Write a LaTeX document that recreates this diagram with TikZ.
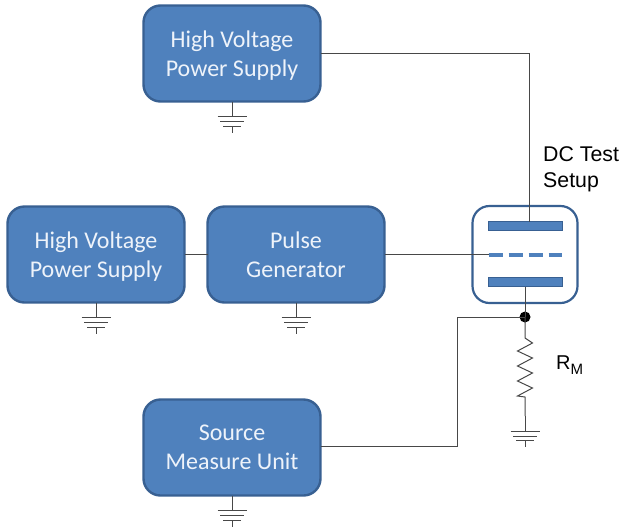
\documentclass[tikz,border=0pt]{standalone}
\usepackage{fontspec}
\setmainfont{Carlito}
\newfontfamily\labelfont{Liberation Sans}
\definecolor{cbox}{RGB}{79,129,189}
\definecolor{cedge}{RGB}{56,96,146}
\definecolor{cwire}{RGB}{72,72,72}
\definecolor{ctext}{RGB}{238,243,250}
\tikzset{bench/.style={x=1pt,y=-1pt,font=\fontsize{24}{29}\selectfont}}
\tikzset{unitbox/.style={draw=cedge,fill=cbox,line width=2.4pt,rounded corners=17pt,minimum width=177pt,minimum height=96pt,align=center,text=ctext,text depth=0pt,inner sep=0pt,outer sep=0pt},
         wire/.style={cwire,line width=1pt},
         plate/.style={draw=cedge,fill=cbox,line width=1pt,minimum width=74pt,minimum height=9pt,inner sep=0pt,outer sep=0pt},
         gnd/.pic={\draw[wire] (0,0) -- (0,15) (-14.5,15) -- (14.5,15) (-12,20) -- (12,20) (-9,24.5) -- (9,24.5) (0,24.5) -- (0,31);}}

\begin{document}
\begin{tikzpicture}[bench]
    \useasboundingbox (0,0) rectangle (621,531);
    \node[unitbox] (hvtop) at (232,53.5) {High Voltage\\Power Supply};
    \node[unitbox] (hvleft) at (96,254.5) {High Voltage\\Power Supply};
    \node[unitbox] (pulse) at (296,254.5) {Pulse\\Generator};
    \node[unitbox] (smu) at (232,447.5) {Source\\Measure Unit};
    % test setup
    \node[draw=cedge,line width=2.2pt,rounded corners=17pt,minimum width=105pt,minimum height=97pt,outer sep=0pt] (tube) at (525,254.5) {};
    \node[plate] (anode) at (525,226) {};
    \node[plate] (cathode) at (525,282) {};
    \coordinate (gridl) at (488.5,254.5);
    \coordinate (gridr) at (562,254.5);
    \draw[cbox,line width=4pt,dash pattern=on 14.5pt off 5.5pt] (gridl) -- (gridr);
    \node[circle,fill=black,inner sep=0pt,minimum size=11pt] (junc) at (525,317) {};
    \coordinate (rtop) at (525,338);
    \coordinate (rbot) at (525,397);
    \coordinate (gndr) at (525,416);
    \coordinate (bend) at (457,446);
    % connectors
    \draw[wire] (hvtop.east) -| ([xshift=4pt]anode.north);
    \draw[wire] (hvleft.east) -- (pulse.west);
    \draw[wire] (pulse.east) -- (gridl);
    \draw[wire] (cathode.south) -- (junc.center);
    \draw[wire] (smu.east |- bend) -- (bend) |- (junc.center);
    \draw[wire] (junc.center) -- (rtop) -- ++(7.5,5) -- ++(-15,8) -- ++(15,7) -- ++(-15,8) -- ++(15,7) -- ++(-15,8) -- ++(15,7) -- ++(-15,8) -- ++(7.5,1) -- (rbot) -- (gndr);
    \foreach \where in {hvtop.south,hvleft.south,pulse.south,smu.south} \path (\where) pic {gnd};
    \path (gndr) pic {gnd};
    % labels
    \node[font=\labelfont\fontsize{21.3}{26}\selectfont,align=left,anchor=west,inner sep=0pt] (dctest) at (543,169) {DC Test\\Setup};
    \node[font=\labelfont\fontsize{20}{24}\selectfont,anchor=west,inner sep=0pt] (rm) at (556,365) {R\raisebox{-5pt}{\fontsize{15}{15}\selectfont M}};
\end{tikzpicture}
\end{document}
